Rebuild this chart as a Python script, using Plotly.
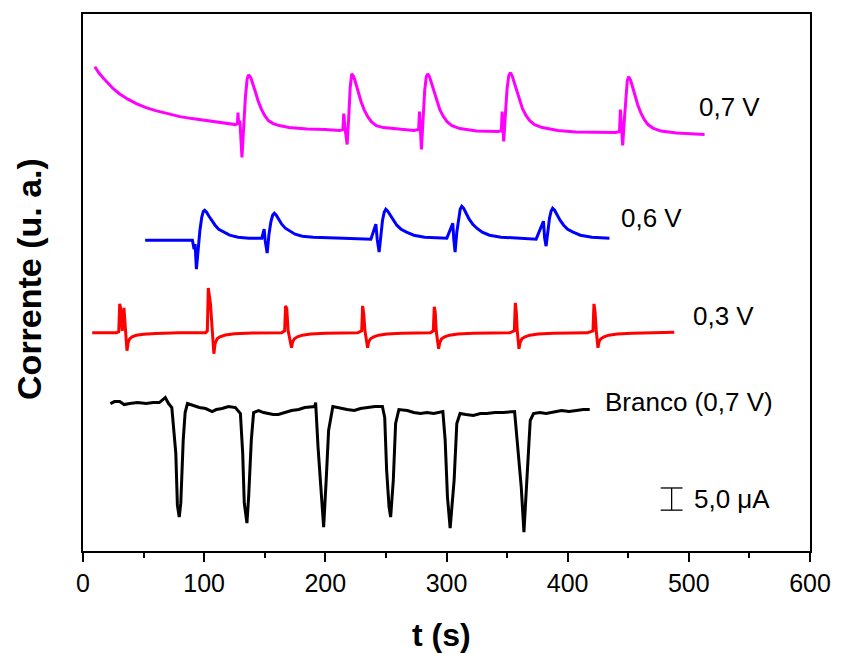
import plotly.graph_objects as go

# ---- data: (t in s, current in arbitrary units) ----
pts_07 = [(9.8, 486), (13, 480), (16.5, 475), (20, 470), (25, 464), (30, 459), (37, 453.5), (44, 449), (52, 445),
          (60, 442), (70, 439), (80, 436), (90, 434), (101, 432), (113, 430), (125.8, 428),
          (127.5, 429), (127.9, 440), (128.5, 428), (129.5, 432), (131.2, 395), (132.5, 425), (134, 455), (135.5, 474),
          (136.7, 478), (138.5, 475), (140, 470), (142, 462), (144.5, 452), (147, 444), (150, 437), (153, 432),
          (157, 429), (162, 427), (170, 425), (185, 423.5), (200, 423), (211.7, 422),
          (214.5, 423), (215.2, 439), (216.2, 425), (218, 408), (219.3, 435), (220.5, 465), (221.8, 479), (223.5, 476),
          (225, 470), (227, 461), (229.5, 451), (232, 443), (235, 436), (238, 431), (242, 427), (248, 425),
          (260, 423.5), (273, 422),
          (277, 423), (277.7, 441), (278.4, 425), (279.3, 403), (280.6, 432), (282, 462), (283.3, 476), (284.5, 479),
          (286, 476), (287.5, 470), (289.5, 461), (292, 451), (294.5, 443), (297.5, 436), (300.5, 431), (304.5, 427),
          (311, 424), (325, 421.5), (342.6, 421),
          (345.3, 422), (345.9, 441), (346.5, 425), (347.2, 411), (348.6, 438), (350, 464), (351.4, 477), (352.7, 480),
          (354.2, 477), (355.7, 471), (357.7, 462), (360.2, 452), (362.7, 444), (365.7, 437), (368.7, 432),
          (372.7, 428), (379, 425), (392, 422), (406.7, 420.5), (439.4, 420),
          (442.8, 421), (443.5, 443), (444.3, 425), (445.4, 407), (446.8, 433), (448.2, 460), (449.2, 472), (450.3, 476),
          (451.8, 473), (453.3, 467), (455.3, 458), (457.8, 448), (460.3, 440), (463.3, 433), (466.3, 428),
          (470.3, 424.5), (477, 421.5), (490, 419.5), (513, 418)]

pts_06 = [(51.3, 312), (70, 312), (90.3, 312), (91.7, 303), (92.5, 308), (93.6, 283), (95, 305), (96.5, 322), (98, 335),
          (99.3, 341), (100.4, 342), (102, 340), (104, 336), (106.5, 331), (109, 327), (112, 323), (116, 320),
          (121, 317), (128, 315), (137, 314), (147.6, 314),
          (149.5, 323), (150.3, 312), (152, 299), (153.5, 318), (155, 330), (156.5, 337), (157.9, 339), (159.5, 337),
          (161.5, 333), (164, 328), (167, 324), (170.5, 321), (175, 318), (181, 316), (190, 315), (215, 314),
          (237.6, 313),
          (241.7, 328), (242.8, 313), (244.4, 300), (245.8, 318), (247.2, 332), (248.6, 340), (249.9, 343),
          (251.5, 341), (253.5, 337), (256, 332), (259, 327), (262.5, 323), (267, 320), (273, 317), (282, 315),
          (300.3, 314),
          (305.2, 329), (306, 313), (307.1, 300), (308.5, 320), (310, 335), (311.3, 343), (312.6, 346), (314.2, 344),
          (316.2, 339), (318.7, 333), (321.7, 328), (325, 324), (329.5, 320), (335.5, 317), (345, 315), (374, 313),
          (380, 331), (381, 314), (382.2, 306), (383.5, 322), (385, 334), (386.3, 341), (387.6, 344), (389.2, 342),
          (391.2, 337), (393.7, 332), (396.7, 327), (400, 323), (404.5, 320), (410.5, 317), (420, 315),
          (434.5, 314)]

pts_03 = [(7.6, 219), (27.5, 219), (29.5, 220), (30.3, 248), (31, 244), (32.4, 221), (33.8, 244), (35, 221),
          (36.3, 201), (37.2, 209), (38.5, 213), (40.5, 215), (44, 216.5), (50, 217.5), (60, 218.3), (79.4, 219),
          (101.2, 219),
          (102.6, 221), (103.4, 264), (105.2, 248), (106.6, 221), (108, 198), (109, 208), (110.7, 213), (113, 215),
          (117.5, 216.8), (125, 218), (140, 218.8), (163.9, 219),
          (166.4, 221), (167.2, 246), (168.2, 243), (169.3, 221), (172.1, 204), (173, 210), (174.5, 213), (177, 215),
          (181, 216.6), (188, 217.8), (200, 218.6), (226.7, 219),
          (230, 221), (230.8, 246), (231.7, 238), (232.7, 221), (234.9, 204), (235.8, 210), (237.3, 213), (240, 215),
          (244, 216.6), (251, 217.8), (263, 218.6), (286.7, 219),
          (289.1, 221), (289.9, 245), (290.7, 240), (291.5, 221), (293.5, 203), (294.4, 209), (295.9, 213),
          (298.5, 215), (302.5, 216.6), (309.5, 217.8), (322, 218.5), (352.2, 219),
          (356, 221), (356.8, 249), (357.6, 240), (358.4, 221), (359.8, 203), (360.7, 209), (362.2, 213),
          (364.8, 215), (368.8, 216.6), (375.8, 217.8), (388, 218.6), (416.3, 219),
          (420.9, 221), (421.7, 248), (422.6, 240), (423.6, 221), (425, 204), (425.9, 210), (427.4, 213), (430, 215),
          (434, 216.6), (441, 217.8), (453, 218.6), (488, 219.5)]

pts_br = [(22.6, 148), (26, 150), (30.3, 150), (34, 147), (38.5, 148), (45, 149), (52.1, 148), (58, 149), (63, 149),
          (67.9, 154), (70.6, 148),
          (73.3, 144), (76.6, 98), (77.9, 46), (79.4, 34), (80.7, 48), (82.7, 111), (84.3, 139), (86.2, 148),
          (90.3, 146), (96, 144), (101.2, 143), (106.6, 140), (110, 142), (114.8, 143), (120, 145), (125.8, 144),
          (129.9, 138), (131.8, 98), (133.1, 48), (135.3, 28), (136.7, 54), (138.9, 111), (140.8, 139), (144.9, 141),
          (149, 139), (153, 138), (157, 137), (161.2, 137), (166, 139), (172.1, 141), (178, 142), (183, 144),
          (191.2, 145), (192, 149),
          (194, 104), (195.8, 71), (198.6, 24), (200.7, 71), (202.7, 121), (206.2, 145), (213, 143), (218, 142),
          (223.9, 141), (229, 143), (234.9, 144), (241, 145), (247.1, 145),
          (249, 134), (250.6, 81), (252.6, 44), (253.9, 34), (256.1, 71), (258, 128), (260.7, 142), (267.6, 141),
          (273, 139), (278.5, 138), (284, 139), (289.4, 138), (297, 140),
          (298.9, 111), (300.8, 54), (303, 23), (306.3, 71), (308.5, 128), (311.2, 138), (316, 137), (322.1, 136),
          (328, 138), (333.1, 138), (340, 139), (346.7, 139), (356.2, 140),
          (359, 104), (361.7, 64), (363.9, 19), (366.4, 71), (369.1, 131), (371.8, 138), (377, 139), (382.2, 138),
          (390, 140), (395, 141), (401.2, 140), (408, 141), (413, 142), (418.2, 142)]

labels = ["0,7 V", "0,6 V", "0,3 V", "Branco (0,7 V)"]
label_t = [507, 442, 502, 429]
label_i = [446, 334, 236, 150]
colors = ["#FF00FF", "#0000FF", "#FF0000", "#000000"]

scale_uA = 5.0          # scale bar value
units_per_uA = 4.45     # arbitrary units per microampere
scale_t = 485.8
scale_i0 = 41.0

x_ticks = [0, 100, 200, 300, 400, 500, 600]

FONT = "Liberation Sans, Arial, sans-serif"

fig = go.Figure()
for pts, c in zip([pts_07, pts_06, pts_03, pts_br], colors):
    fig.add_trace(go.Scatter(x=[p[0] for p in pts], y=[p[1] for p in pts], mode="lines",
                             line=dict(color=c, width=3), showlegend=False))

for lab, lt, li in zip(labels, label_t, label_i):
    fig.add_annotation(x=lt, y=li, text=lab, showarrow=False, xanchor="left",
                       yanchor="middle", font=dict(family=FONT, size=26, color="black"))

# scale bar
i1 = scale_i0 + scale_uA * units_per_uA
fig.add_shape(type="line", x0=scale_t, x1=scale_t, y0=scale_i0, y1=i1,
              line=dict(color="black", width=1.3))
for yy in (scale_i0, i1):
    fig.add_shape(type="line", x0=scale_t - 9, x1=scale_t + 9, y0=yy, y1=yy,
                  line=dict(color="black", width=1.3))
fig.add_annotation(x=502.5, y=(scale_i0 + i1) / 2, text="5,0 μA", showarrow=False,
                   xanchor="left", yanchor="middle", font=dict(family=FONT, size=26, color="black"))

# axis titles
fig.add_annotation(xref="paper", yref="paper", x=-0.074, y=0.507, text="<b>Corrente (u. a.)</b>",
                   textangle=-90, showarrow=False, xanchor="center", yanchor="middle",
                   font=dict(family=FONT, size=34, color="black"))
fig.add_annotation(xref="paper", yref="paper", x=0.4925, y=-0.156, text="<b>t (s)</b>",
                   showarrow=False, xanchor="center", yanchor="middle",
                   font=dict(family=FONT, size=32, color="black"))

fig.update_layout(
    width=843, height=654,
    margin=dict(l=83, r=27, t=12, b=103),
    paper_bgcolor="white", plot_bgcolor="white",
    font=dict(family=FONT, color="black"),
    xaxis=dict(range=[0, 600], tickvals=x_ticks, ticktext=[str(v) for v in x_ticks],
               showline=True, linecolor="black", linewidth=2, mirror=True,
               ticks="outside", ticklen=9, tickwidth=2, tickcolor="black",
               minor=dict(ticks="outside", ticklen=5, tickwidth=2, tickcolor="black", dtick=50),
               showgrid=False, zeroline=False, tickfont=dict(family=FONT, size=25)),
    yaxis=dict(range=[0, 539], showline=True, linecolor="black", linewidth=2, mirror=True,
               showticklabels=False, ticks="", showgrid=False, zeroline=False),
)

fig.write_html("out.html")
